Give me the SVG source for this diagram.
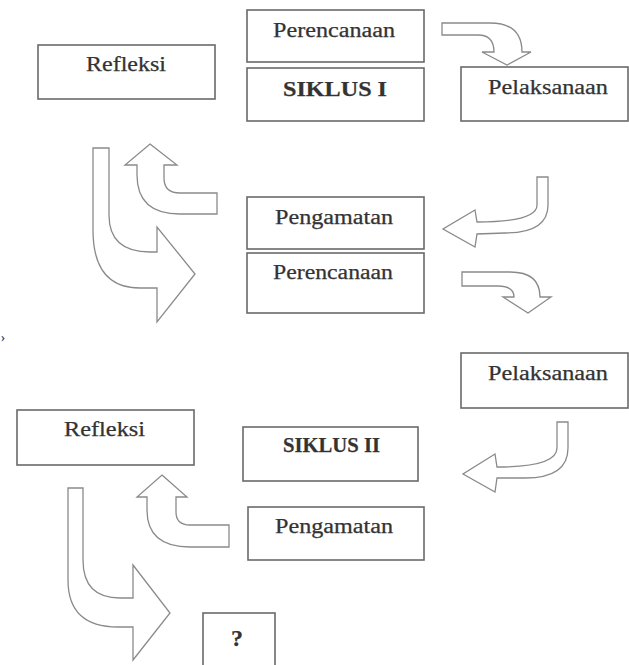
<svg xmlns="http://www.w3.org/2000/svg" width="629" height="665" viewBox="0 0 629 665">
<style>
.box{fill:#fff;stroke:#6a6a6a;stroke-width:1.6}
.t{font-family:'Liberation Serif','DejaVu Serif',serif;font-size:20px;fill:#333;stroke:#333;stroke-width:0.25}
.b{font-weight:bold}
.q{font-size:24px}
.m{font-size:12px}
.arr{fill:#fff;stroke:#8a8a8a;stroke-width:1.3;stroke-linejoin:miter}
</style>
<rect x="0" y="0" width="629" height="665" fill="#fff"/>
<g id="refleksi1"><rect class="box" x="38" y="45" width="177" height="54"/><text class="t" x="86" y="71" textLength="80" lengthAdjust="spacingAndGlyphs">Refleksi</text></g>
<g id="perencanaan1"><rect class="box" x="247" y="10" width="177" height="52"/><text class="t" x="273" y="37" textLength="122" lengthAdjust="spacingAndGlyphs">Perencanaan</text></g>
<g id="siklus1"><rect class="box" x="247" y="68" width="177" height="53"/><text class="t b" x="283" y="96" textLength="104" lengthAdjust="spacingAndGlyphs">SIKLUS I</text></g>
<g id="pelaksanaan1"><rect class="box" x="461" y="67" width="167" height="54"/><text class="t" x="488" y="94" textLength="120" lengthAdjust="spacingAndGlyphs">Pelaksanaan</text></g>
<g id="pengamatan1"><rect class="box" x="247" y="197" width="177" height="52"/><text class="t" x="275" y="224" textLength="118" lengthAdjust="spacingAndGlyphs">Pengamatan</text></g>
<g id="perencanaan2"><rect class="box" x="247" y="253" width="177" height="60"/><text class="t" x="273" y="279" textLength="120" lengthAdjust="spacingAndGlyphs">Perencanaan</text></g>
<g id="pelaksanaan2"><rect class="box" x="461" y="353" width="167" height="55"/><text class="t" x="488" y="380" textLength="120" lengthAdjust="spacingAndGlyphs">Pelaksanaan</text></g>
<g id="refleksi2"><rect class="box" x="17" y="410" width="177" height="55"/><text class="t" x="64" y="436" textLength="81" lengthAdjust="spacingAndGlyphs">Refleksi</text></g>
<g id="siklus2"><rect class="box" x="243" y="427" width="175" height="54"/><text class="t b" x="283" y="452" textLength="97" lengthAdjust="spacingAndGlyphs">SIKLUS II</text></g>
<g id="pengamatan2"><rect class="box" x="248" y="507" width="176" height="53"/><text class="t" x="275" y="533" textLength="118" lengthAdjust="spacingAndGlyphs">Pengamatan</text></g>
<g id="tanya"><rect class="box" x="203" y="613" width="72" height="62"/><text class="t b q" x="231" y="646">?</text></g>
<g id="mark"><text class="t m" x="1" y="341">›</text></g>
<g id="connectors">
<path class="arr" d="M442,23 L490,23 Q522,23 522,52 L531,52 L507,65 L482,52 L494,52 Q494,35 478,35 L442,35 Z"/>
<path class="arr" d="M537,177 L548,177 L548,205 Q548,233 505,233 L477,234 L475,247 L443,229 L475,210 L477,222 Q537,222 537,205 Z"/>
<path class="arr" d="M462,272 L510,272 Q540,272 540,297 L551,297 L528,313 L503,297 L514,297 Q514,286 498,286 L462,286 Z"/>
<path class="arr" d="M150,144 L177,165 L164,165 L164,178 Q164,193 180,193 L217,193 L217,214 L180,214 Q137,214 137,175 L137,165 L125,165 Z"/>
<path class="arr" d="M93,148 L109,148 L109,215 Q109,252 150,252 L157,252 L157,227 L195,274 L157,322 L157,288 L140,288 Q93,288 93,230 Z"/>
<path class="arr" d="M557,422 L568,422 L568,448 Q568,478 525,478 L497,478 L495,492 L463,474 L495,454 L497,467 Q557,467 557,448 Z"/>
<path class="arr" d="M162,475 L187,497 L176,497 L176,512 Q176,525 190,525 L229,525 L229,547 L190,547 Q147,547 147,510 L147,497 L137,497 Z"/>
<path class="arr" d="M68,488 L83,488 L83,560 Q83,598 120,598 L133,598 L133,565 L170,613 L133,660 L133,627 L118,627 Q68,627 68,580 Z"/>
</g>
</svg>
